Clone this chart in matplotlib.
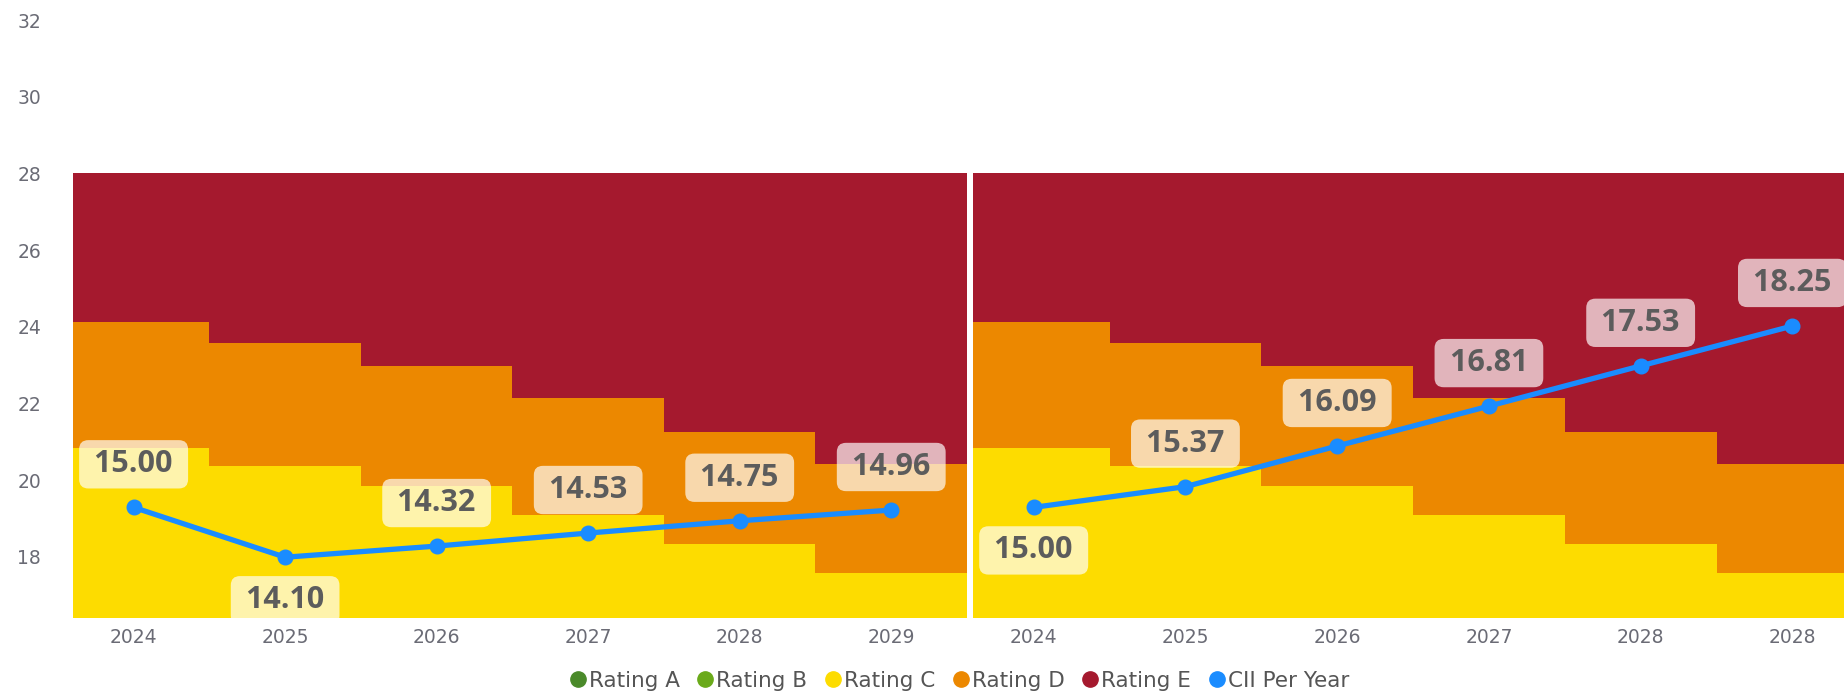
import matplotlib.pyplot as plt
from matplotlib.lines import Line2D

# --- data ---
years_left = ["2024", "2025", "2026", "2027", "2028", "2029"]
years_right = ["2024", "2025", "2026", "2027", "2028", "2028"]

# rating band upper bounds (same for both panels)
rating_c_top = [20.85, 20.37, 19.85, 19.09, 18.34, 17.59]
rating_d_top = [24.12, 23.57, 22.98, 22.13, 21.26, 20.42]
rating_e_top = [28, 28, 28, 28, 28, 28]

# CII line: plotted position and the value shown in the label
cii_left_pos = [19.29, 17.99, 18.28, 18.62, 18.94, 19.22]
cii_left_lbl = [15.00, 14.10, 14.32, 14.53, 14.75, 14.96]
cii_right_pos = [19.29, 19.83, 20.89, 21.93, 22.98, 24.02]
cii_right_lbl = [15.00, 15.37, 16.09, 16.81, 17.53, 18.25]
# label below the point?
left_below = [False, True, False, False, False, False]
right_below = [True, False, False, False, False, False]

col_a = "#4a8a2a"
col_b = "#6aaa1a"
col_c = "#fddc00"
col_d = "#ec8800"
col_e = "#a5192e"
col_cii = "#1a8cff"
txt_gray = "#6a6b75"

plt.rcParams['font.family'] = ['Open Sans', 'DejaVu Sans']

fig = plt.figure(figsize=(18.44, 6.97), dpi=100)
ax1 = fig.add_axes([73 / 1844, 1 - 617.8 / 697, (967 - 73) / 1844, (617.8 - 20) / 697])
ax2 = fig.add_axes([973 / 1844, 1 - 617.8 / 697, (1844 - 973) / 1844, (617.8 - 20) / 697])


def draw_panel(ax, labels, pos, vals, below, xmax):
    x = list(range(len(labels)))
    ax.bar(x, rating_c_top, width=1.0, color=col_c, linewidth=0)
    ax.bar(x, [d - c for d, c in zip(rating_d_top, rating_c_top)], bottom=rating_c_top,
           width=1.0, color=col_d, linewidth=0)
    ax.bar(x, [e - d for e, d in zip(rating_e_top, rating_d_top)], bottom=rating_d_top,
           width=1.0, color=col_e, linewidth=0)
    ax.plot(x, pos, color=col_cii, linewidth=3.8, marker='o', markersize=10.5, zorder=5)
    for xi, yi, v, b in zip(x, pos, vals, below):
        ax.annotate(f"\u2009{v:.2f}\u2009", (xi, yi), xytext=(0, -31 if b else 31),
                    textcoords='offset points', ha='center', va='center',
                    fontsize=22, fontweight='bold', color="#5c5c5c", zorder=6,
                    annotation_clip=False, clip_on=True,
                    bbox=dict(boxstyle="round,pad=0.3,rounding_size=0.3",
                              facecolor="white", alpha=0.68, edgecolor='none'))
    ax.set_xlim(-0.4, xmax)
    ax.set_ylim(16.41, 32)
    ax.set_xticks(x)
    ax.set_xticklabels(labels, family='DejaVu Sans')
    ax.set_yticks(range(18, 33, 2))
    ax.set_yticklabels([str(t) for t in range(18, 33, 2)], family='DejaVu Sans')
    ax.tick_params(length=0, labelsize=13.5, colors=txt_gray)
    ax.tick_params(axis='x', pad=7)
    ax.tick_params(axis='y', pad=40)
    for t in ax.get_yticklabels():
        t.set_horizontalalignment('left')
    for s in ax.spines.values():
        s.set_visible(False)


draw_panel(ax1, years_left, cii_left_pos, cii_left_lbl, left_below, 5.5)
draw_panel(ax2, years_right, cii_right_pos, cii_right_lbl, right_below, 5.34)
ax2.set_yticklabels([])

handles = [Line2D([], [], marker='o', linestyle='none', color=c, markersize=11)
           for c in [col_a, col_b, col_c, col_d, col_e, col_cii]]
names = ["Rating A", "Rating B", "Rating C", "Rating D", "Rating E", "CII Per Year"]
fig.legend(handles, names, loc='center', bbox_to_anchor=(958 / 1844, 1 - 681 / 697),
           ncol=6, frameon=False, handletextpad=0.0, columnspacing=0.7,
           handlelength=1.0, prop={'family': ['Liberation Sans Narrow', 'DejaVu Sans'], 'size': 15.5},
           labelcolor="#555555")

fig.savefig("out.png", dpi=100)
